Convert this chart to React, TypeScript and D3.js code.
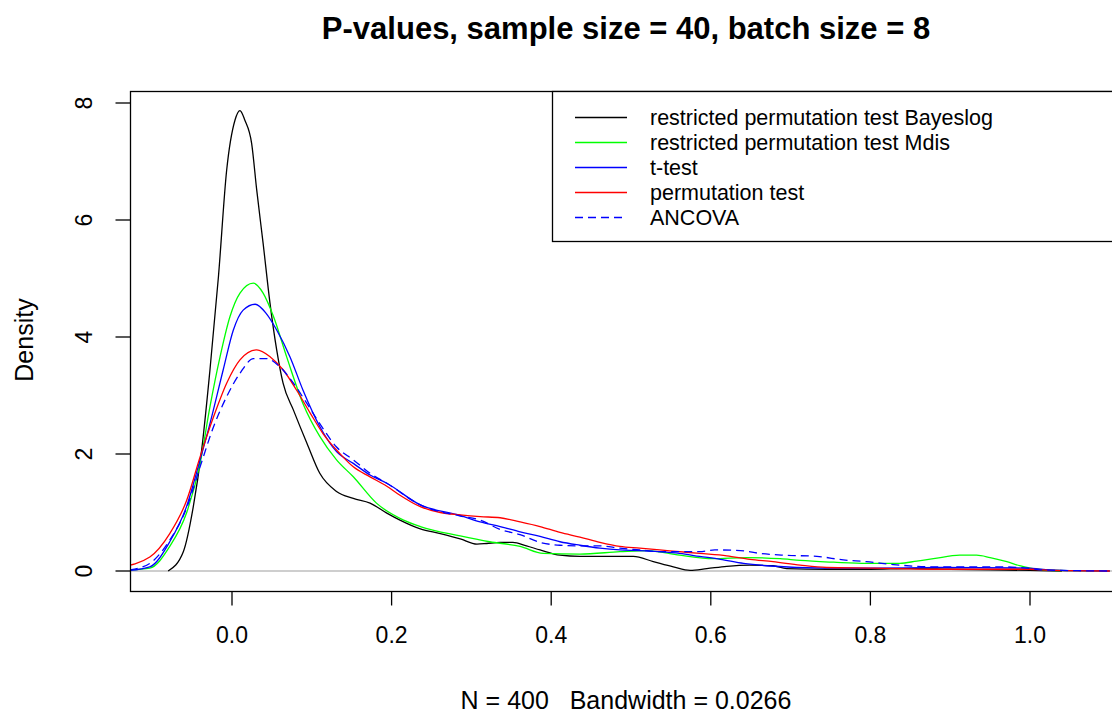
import React from "react";
import * as d3 from "d3";

const W = 1112;
const H = 715;

const titleText = "P-values, sample size = 40, batch size = 8";
const xLabelText = "N = 400   Bandwidth = 0.0266";
const yLabelText = "Density";

const xTicks = [0, 0.2, 0.4, 0.6, 0.8, 1.0];
const yTicks = [0, 2, 4, 6, 8];

const legendLabels = [
  "restricted permutation test Bayeslog",
  "restricted permutation test Mdis",
  "t-test",
  "permutation test",
  "ANCOVA",
];

const bayeslog: [number, number][] = [
  [-0.08, 0], [-0.061, 0.33], [-0.0485, 1.1], [-0.038, 2.07], [-0.0276, 3.44], [-0.017, 5.03],
  [-0.0067, 6.85], [0.0038, 7.71], [0.01, 7.87], [0.016, 7.71], [0.0246, 7.31], [0.031, 6.51],
  [0.039, 5.6], [0.0476, 4.58], [0.056, 3.78], [0.064, 3.21], [0.077, 2.75], [0.094, 2.18],
  [0.11, 1.67], [0.131, 1.36], [0.152, 1.24], [0.173, 1.16], [0.194, 0.99], [0.2105, 0.87],
  [0.236, 0.72], [0.261, 0.64], [0.286, 0.55], [0.307, 0.46], [0.319, 0.47], [0.336, 0.49],
  [0.352, 0.49], [0.369, 0.43], [0.386, 0.36], [0.411, 0.27], [0.436, 0.25], [0.478, 0.25],
  [0.503, 0.25], [0.528, 0.16], [0.553, 0.07], [0.574, 0.01], [0.595, 0.04], [0.62, 0.08],
  [0.649, 0.1], [0.678, 0.09], [0.695, 0.04], [0.745, 0.03], [0.8, 0.03], [0.85, 0.04],
  [0.9, 0.03], [0.95, 0.02], [1.0, 0.01], [1.04, 0],
];

const mdis: [number, number][] = [
  [-0.128, 0.02], [-0.103, 0.05], [-0.078, 0.42], [-0.057, 0.99], [-0.04, 1.84], [-0.0276, 2.81],
  [-0.015, 3.66], [-0.0025, 4.35], [0.01, 4.75], [0.0267, 4.92], [0.039, 4.75], [0.052, 4.35],
  [0.0685, 3.66], [0.089, 2.86], [0.11, 2.3], [0.131, 1.9], [0.152, 1.61], [0.181, 1.16],
  [0.215, 0.87], [0.236, 0.76], [0.286, 0.6], [0.323, 0.5], [0.361, 0.42], [0.39, 0.3],
  [0.436, 0.29], [0.486, 0.33], [0.52, 0.35], [0.561, 0.27], [0.603, 0.21], [0.645, 0.23],
  [0.687, 0.21], [0.712, 0.18], [0.754, 0.15], [0.795, 0.13], [0.837, 0.13], [0.858, 0.17],
  [0.879, 0.21], [0.912, 0.27], [0.933, 0.27], [0.95, 0.23], [0.971, 0.16], [0.987, 0.09],
  [1.008, 0.03], [1.046, 0.005], [1.1, 0],
];

const ttest: [number, number][] = [
  [-0.128, 0.01], [-0.103, 0.07], [-0.078, 0.5], [-0.057, 1.1], [-0.04, 1.9], [-0.0276, 2.52],
  [-0.011, 3.44], [0.0017, 4.12], [0.014, 4.46], [0.029, 4.56], [0.043, 4.4], [0.056, 4.12],
  [0.0727, 3.66], [0.089, 3.09], [0.11, 2.47], [0.131, 2.04], [0.152, 1.84], [0.173, 1.64],
  [0.194, 1.5], [0.236, 1.13], [0.286, 0.95], [0.311, 0.84], [0.336, 0.76], [0.361, 0.67],
  [0.386, 0.59], [0.411, 0.5], [0.436, 0.44], [0.461, 0.39], [0.486, 0.36], [0.511, 0.35],
  [0.536, 0.33], [0.561, 0.3], [0.586, 0.25], [0.612, 0.2], [0.641, 0.13], [0.67, 0.09],
  [0.745, 0.05], [0.804, 0.05], [0.887, 0.06], [0.996, 0.05], [1.025, 0.02], [1.06, 0.005], [1.1, 0],
];

const perm: [number, number][] = [
  [-0.14, 0.07], [-0.103, 0.24], [-0.078, 0.64], [-0.057, 1.2], [-0.04, 1.95], [-0.023, 2.64],
  [-0.0067, 3.21], [0.01, 3.61], [0.031, 3.78], [0.048, 3.66], [0.064, 3.44], [0.081, 3.09],
  [0.098, 2.7], [0.114, 2.35], [0.135, 2.01], [0.152, 1.78], [0.173, 1.61], [0.194, 1.45],
  [0.21, 1.3], [0.236, 1.1], [0.261, 1.0], [0.286, 0.96], [0.311, 0.93], [0.336, 0.91],
  [0.361, 0.84], [0.386, 0.76], [0.411, 0.66], [0.436, 0.58], [0.461, 0.49], [0.486, 0.42],
  [0.511, 0.39], [0.536, 0.36], [0.561, 0.33], [0.586, 0.3], [0.62, 0.26], [0.649, 0.2],
  [0.678, 0.16], [0.712, 0.1], [0.745, 0.06], [0.804, 0.05], [0.879, 0.03], [1.0, 0.03],
  [1.03, 0.01], [1.1, 0],
];

const ancova: [number, number][] = [
  [-0.128, 0.02], [-0.103, 0.13], [-0.078, 0.53], [-0.057, 1.07], [-0.04, 1.78], [-0.023, 2.47],
  [-0.0067, 2.98], [0.01, 3.38], [0.027, 3.63], [0.043, 3.63], [0.06, 3.49], [0.077, 3.21],
  [0.094, 2.86], [0.11, 2.52], [0.131, 2.12], [0.152, 1.9], [0.173, 1.67], [0.194, 1.5],
  [0.236, 1.13], [0.286, 0.94], [0.311, 0.87], [0.336, 0.71], [0.361, 0.62], [0.386, 0.49],
  [0.411, 0.44], [0.436, 0.43], [0.461, 0.43], [0.486, 0.39], [0.511, 0.36], [0.536, 0.33],
  [0.561, 0.33], [0.586, 0.33], [0.605, 0.36], [0.637, 0.35], [0.662, 0.3], [0.691, 0.27],
  [0.733, 0.25], [0.766, 0.19], [0.795, 0.16], [0.829, 0.11], [0.879, 0.07], [0.962, 0.07],
  [0.996, 0.05], [1.013, 0.02], [1.06, 0.005], [1.1, 0],
];

const seriesList = [
  { data: bayeslog, color: "#000000", dash: "" },
  { data: mdis, color: "#00ff00", dash: "" },
  { data: ttest, color: "#0000ff", dash: "" },
  { data: perm, color: "#ff0000", dash: "" },
  { data: ancova, color: "#0000ff", dash: "8,5" },
];

const FONT = "'Liberation Sans', Arial, sans-serif";

export default function App() {
  const left = 130.5;
  const right = 1125;
  const top = 91.5;
  const bottom = 591.5;

  const x = d3.scaleLinear().domain([0, 1]).range([232, 1030]);
  const y = d3.scaleLinear().domain([0, 8]).range([571, 103]);

  const line = d3
    .line<[number, number]>()
    .x((d) => x(d[0]))
    .y((d) => y(d[1]))
    .curve(d3.curveMonotoneX);

  const legX = 552.5;
  const legY = 91.5;
  const legRowY = (i: number) => 117.5 + i * 25;

  return (
    <div>
      <style>{`body{margin:0;background:#fff}`}</style>
      <svg width={W} height={H} style={{ display: "block", fontFamily: FONT }}>
        <rect x={0} y={0} width={W} height={H} fill="#fff" />
        <defs>
          <clipPath id="plotclip">
            <rect x={left} y={top} width={right - left} height={bottom - top} />
          </clipPath>
        </defs>
        <text x={626} y={39} textAnchor="middle" fontSize={31} fontWeight="bold" fill="#000">
          {titleText}
        </text>
        <g clipPath="url(#plotclip)">
          <line x1={left} x2={right} y1={y(0)} y2={y(0)} stroke="#bebebe" strokeWidth={1.3} />
          {seriesList.map((s, i) => (
            <path
              key={i}
              d={line(s.data) || ""}
              fill="none"
              stroke={s.color}
              strokeWidth={1.3}
              strokeDasharray={s.dash || undefined}
            />
          ))}
        </g>
        <rect x={left} y={top} width={right - left} height={bottom - top} fill="none" stroke="#000" strokeWidth={1.3} />
        {xTicks.map((t) => (
          <g key={"x" + t}>
            <line x1={x(t)} x2={x(t)} y1={bottom} y2={bottom + 14} stroke="#000" strokeWidth={1.3} />
            <text x={x(t)} y={643} textAnchor="middle" fontSize={23} fill="#000">
              {d3.format(".1f")(t)}
            </text>
          </g>
        ))}
        {yTicks.map((t) => (
          <g key={"y" + t}>
            <line x1={left - 15} x2={left} y1={y(t)} y2={y(t)} stroke="#000" strokeWidth={1.3} />
            <text
              transform={`translate(${92},${y(t)}) rotate(-90)`}
              textAnchor="middle"
              fontSize={23}
              fill="#000"
            >
              {String(t)}
            </text>
          </g>
        ))}
        <text transform={`translate(33,340) rotate(-90)`} textAnchor="middle" fontSize={25} fill="#000">
          {yLabelText}
        </text>
        <text x={626} y={709} textAnchor="middle" fontSize={25} fill="#000" style={{ whiteSpace: "pre" }}>
          {xLabelText}
        </text>
        <rect x={legX} y={legY} width={600} height={150} fill="#fff" stroke="#000" strokeWidth={1.3} />
        {legendLabels.map((lab, i) => (
          <g key={lab}>
            <line
              x1={575}
              x2={627}
              y1={legRowY(i)}
              y2={legRowY(i)}
              stroke={seriesList[i].color}
              strokeWidth={1.3}
              strokeDasharray={seriesList[i].dash || undefined}
            />
            <text x={650} y={legRowY(i) + 7} fontSize={21.5} fill="#000">
              {lab}
            </text>
          </g>
        ))}
      </svg>
    </div>
  );
}
